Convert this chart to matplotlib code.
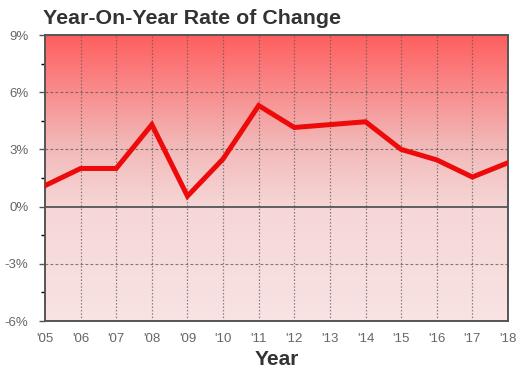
import numpy as np
import matplotlib.pyplot as plt
from matplotlib.colors import LinearSegmentedColormap
from matplotlib.ticker import MultipleLocator, FuncFormatter

plt.rcParams['font.family'] = ['Liberation Sans', 'DejaVu Sans']

# yearly rate of change, percent
years = list(range(2005, 2019))
rate = [1.1, 2.0, 2.0, 4.3, 0.55, 2.5, 5.3, 4.15, 4.3, 4.45, 3.0, 2.45, 1.55, 2.3]
year_labels = ["'%02d" % (y % 100) for y in years]

y_min, y_max = -6, 9

fig = plt.figure(figsize=(5.2, 3.7), dpi=100)
ax = fig.add_axes([45 / 520, 1 - 321 / 370, 463 / 520, 286 / 370])

# background fade: strong red at the top, pale pink below zero
bg = LinearSegmentedColormap.from_list(
    "bg",
    [(0.0, (0.98, 0.89, 0.89)), (0.40, (0.965, 0.84, 0.84)),
     (0.62, (0.95, 0.72, 0.72)), (1.0, (1.0, 0.37, 0.37))])
grad = np.linspace(0, 1, 256).reshape(-1, 1)
ax.imshow(grad, extent=[0, len(years) - 1, y_min, y_max], origin="lower",
          aspect="auto", cmap=bg, zorder=0)

x = np.arange(len(years))
for xi in x[1:-1]:
    ax.axvline(xi, color="#555555", lw=0.9, ls=(0, (1.2, 1.5)), alpha=0.7, zorder=1)
for yv in [-3, 3, 6]:
    ax.axhline(yv, color="#555555", lw=0.8, ls=(0, (2.5, 2)), alpha=0.75, zorder=1)
ax.axhline(0, color="#555555", lw=1.3, zorder=2)

ax.plot(x, rate, color="#ee0a0a", lw=3.6, solid_joinstyle="miter", zorder=3)

ax.set_xlim(0, len(years) - 1)
ax.set_ylim(y_min, y_max)
ax.set_xticks(x)
ax.set_xticklabels(year_labels)
ax.yaxis.set_major_locator(MultipleLocator(3))
ax.yaxis.set_minor_locator(MultipleLocator(1.5))
ax.yaxis.set_major_formatter(FuncFormatter(lambda v, p: "%d%%" % v))
ax.tick_params(axis="both", colors="#555555", labelcolor="#666666", labelsize=9.5)
ax.tick_params(axis="x", length=0, pad=9)
ax.tick_params(axis="y", which="major", length=4, width=1, pad=8)
ax.tick_params(axis="y", which="minor", length=3, width=1)

for s in ax.spines.values():
    s.set_color("#555555")
    s.set_linewidth(1.4)

ax.set_xlabel("Year", fontsize=15, fontweight="bold", color="#333333", labelpad=3)
fig.text(43 / 520, 1 - 19 / 370, "Year-On-Year Rate of Change", fontsize=15.4,
         fontweight="bold", color="#333333", va="center", ha="left")

fig.savefig("out.png", dpi=100)
